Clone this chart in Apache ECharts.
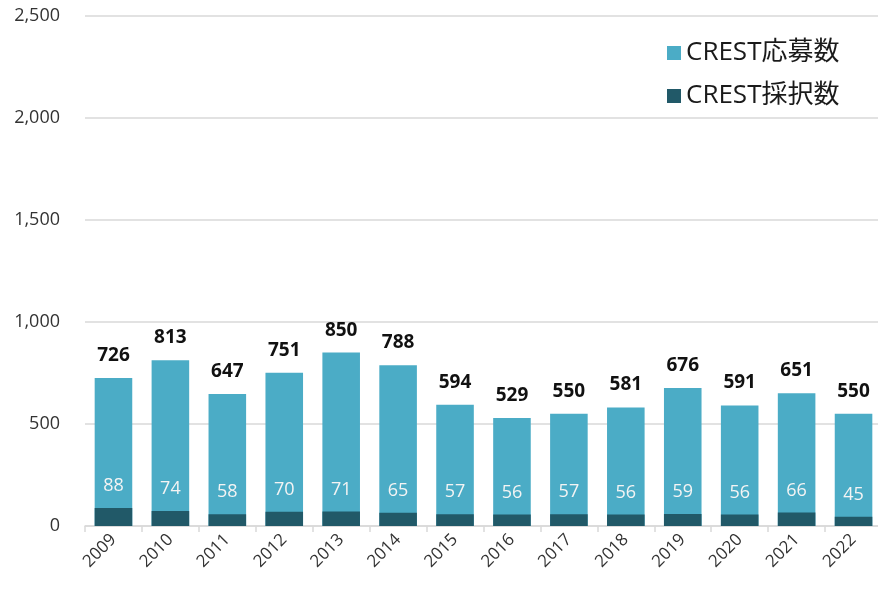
<!DOCTYPE html>
<html><head><meta charset="utf-8">
<script src="https://cdn.jsdelivr.net/npm/echarts@6/dist/echarts.min.js"></script>
<style>html,body{margin:0;padding:0;background:#fff}#c{width:878px;height:590px}</style>
</head><body><div id="c"></div>
<script>
const years = ['2009','2010','2011','2012','2013','2014','2015','2016','2017','2018','2019','2020','2021','2022'];
const applications = [726,813,647,751,850,788,594,529,550,581,676,591,651,550];
const adoptions = [88,74,58,70,71,65,57,56,57,56,59,56,66,45];
const yTicks = [0,500,1000,1500,2000,2500];
const FONT = "'Open Sans', 'Noto Sans CJK JP', sans-serif";
const chart = echarts.init(document.getElementById('c'));
chart.setOption({
  animation:false,
  textStyle:{fontFamily:FONT},
  grid:{left:85,width:797,top:16,bottom:64,outerBoundsMode:'none',containLabel:false},
  legend:{
    orient:'vertical', left:662, top:35, itemWidth:14, itemHeight:14, itemGap:17,
    icon:'rect',
    textStyle:{fontSize:26,color:'#1a1a1a',fontFamily:FONT},
    data:['CREST応募数','CREST採択数']
  },
  xAxis:{
    type:'category', data:years,
    axisLine:{lineStyle:{color:'#d9d9d9',width:1.5}},
    axisTick:{show:true,length:6,lineStyle:{color:'#d9d9d9',width:1.5}},
    axisLabel:{rotate:45,fontSize:17,color:'#333333',margin:11,fontFamily:FONT}
  },
  yAxis:{
    type:'value', min:yTicks[0], max:yTicks[yTicks.length-1], interval:500,
    axisLine:{show:false}, axisTick:{show:false},
    splitLine:{lineStyle:{color:'#d9d9d9',width:1.5}},
    axisLabel:{fontSize:18,color:'#333333',margin:25,fontFamily:FONT,
      formatter:v=>v.toLocaleString('en-US')}
  },
  series:[
    {name:'CREST応募数', type:'bar', data:applications, barWidth:'66%', barGap:'-100%',
     itemStyle:{color:'#4BACC6'},
     label:{show:true, position:'top', distance:13, fontSize:19, fontWeight:'bold', color:'#111', fontFamily:FONT}},
    {name:'CREST採択数', type:'bar', data:adoptions, barWidth:'66%', barGap:'-100%',
     itemStyle:{color:'#215968'},
     label:{show:true, position:'top', distance:13, fontSize:18, color:'#f4f4f4', fontFamily:FONT}}
  ]
});
</script></body></html>
